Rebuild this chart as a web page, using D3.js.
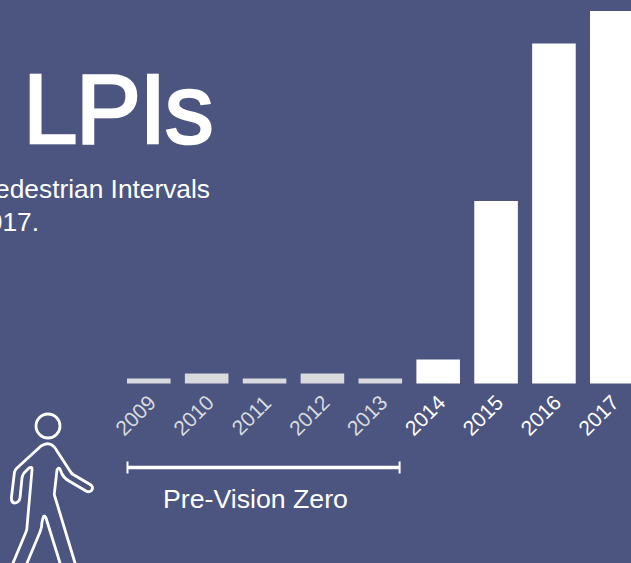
<!DOCTYPE html>
<html><head><meta charset="utf-8">
<script src="https://cdn.jsdelivr.net/npm/d3@7/dist/d3.min.js"></script>
<style>html,body{margin:0;padding:0;background:#4b5580;overflow:hidden}svg{display:block}text{font-family:"Liberation Sans",Arial,sans-serif}</style>
</head><body><svg id="c" width="631" height="563"></svg>
<script>
const years = ["2009","2010","2011","2012","2013","2014","2015","2016","2017"];
const lpis = [2,4,2,4,2,9.6,73,136,149];
const preVision = ["2009","2010","2011","2012","2013"];
const bg = "#4b5580", white = "#ffffff", muted = "#d9dadd";

const svg = d3.select("#c");
svg.append("rect").attr("width",631).attr("height",563).attr("fill",bg);

const x = d3.scaleBand().domain(years).range([127,633.6]).paddingInner(0.247).paddingOuter(0);
const y = d3.scaleLinear().domain([0,149]).range([383.5,11]);

svg.append("g").selectAll("rect").data(years).join("rect")
  .attr("x",d=>x(d))
  .attr("width",x.bandwidth())
  .attr("y",(d,i)=>y(lpis[i]))
  .attr("height",(d,i)=>y(0)-y(lpis[i]))
  .attr("fill",d=>preVision.includes(d)?muted:white);

const ax = svg.append("g").attr("transform","translate(0,383.5)")
  .call(d3.axisBottom(x).tickSize(0).tickPadding(0));
ax.select(".domain").remove();
ax.selectAll("text")
  .attr("font-size",21)
  .style("font-family",'"Liberation Sans",Arial,sans-serif')
  .attr("fill",d=>preVision.includes(d)?muted:white)
  .attr("text-anchor","middle")
  .attr("dy",0).attr("y",0)
  .attr("transform",`translate(-8,37) rotate(-45)`);

svg.append("text").attr("x",23).attr("y",143).attr("font-size",98).attr("fill",white).attr("stroke",white).attr("stroke-width",2.6).attr("letter-spacing",-1.8).text("LPIs");
svg.append("text").attr("x",210).attr("y",198).attr("text-anchor","end").attr("font-size",26.3).attr("fill",white).text("Pedestrian Intervals");
svg.append("text").attr("x",39).attr("y",231).attr("text-anchor","end").attr("font-size",26.3).attr("fill",white).text("2017.");

const bx0 = x(preVision[0]), bx1 = x(preVision[preVision.length-1])+x.bandwidth()-2;
const br = svg.append("g").attr("stroke",white).attr("fill","none");
br.append("line").attr("x1",bx0).attr("x2",bx1).attr("y1",467.5).attr("y2",467.5).attr("stroke-width",3.4);
br.append("line").attr("x1",bx0+.5).attr("x2",bx0+.5).attr("y1",461.5).attr("y2",473.5).attr("stroke-width",2);
br.append("line").attr("x1",bx1-.5).attr("x2",bx1-.5).attr("y1",461.5).attr("y2",473.5).attr("stroke-width",2);
svg.append("text").attr("x",163).attr("y",508).attr("font-size",26.7).attr("fill",white).text("Pre-Vision Zero");

const fig = svg.append("g").attr("fill","none").attr("stroke",white).attr("stroke-width",2.8).attr("stroke-linejoin","round").attr("stroke-linecap","round");
fig.append("circle").attr("cx",48).attr("cy",426).attr("r",12);
fig.append("path").attr("d","M13 563 L26 532 Q27 530 27 527 L32 470 Q32.5 466 29 468 L24 473 Q22.5 475 22 478 L20 498 Q19 503 14 503 Q11 502 11.5 497 L14.5 472 Q15 470 17 468 L41 446 Q47 442 52 445 Q55 447 57 451 L70 471 Q71.5 474 74 475 L91 485 Q94 488 91 491 Q89 492.5 86 491 L69 481 Q64 478 62 474 L60 469 Q58 467 57 470 L54.5 492 Q54 495 55 497 L75 563 M27 563 L40 532 Q42 527 42 522 L43 518 Q44 514 46 518 L60 563");
</script></body></html>
